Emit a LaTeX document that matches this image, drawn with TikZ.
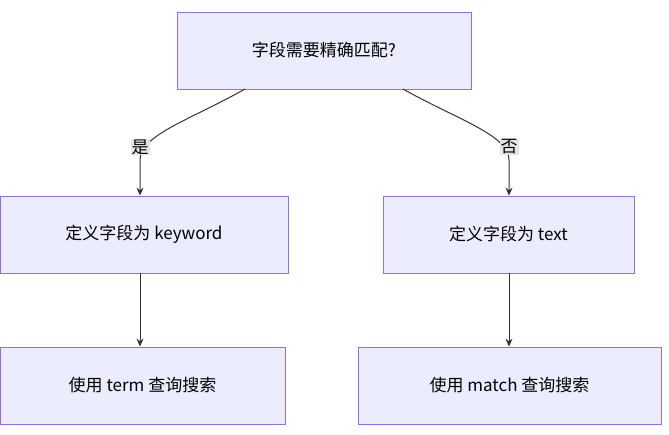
\documentclass[tikz,border=0pt]{standalone}
\usepackage{fontspec}
\setmainfont{Noto Sans CJK SC}
\usetikzlibrary{arrows.meta}
\definecolor{mborder}{HTML}{9370DB}
\definecolor{mfill}{HTML}{ECECFF}
\begin{document}
\begin{tikzpicture}[x=1pt,y=-1pt,
  box/.style={draw=mborder, fill=mfill, line width=0.8pt, font=\fontsize{17}{20}\selectfont},
  lbl/.style={fill=gray!20, inner sep=1pt, font=\fontsize{17}{20}\selectfont},
  arr/.style={draw=black!80, line width=1pt, -{Stealth[length=8pt,width=7pt]}}]
\useasboundingbox (0,0) rectangle (669,434);
\node[box, minimum width=294pt, minimum height=77pt] (q) at (324,50.5) {字段需要精确匹配?};
\node[box, minimum width=288pt, minimum height=77pt] (k) at (144,234.5) {定义字段为 keyword};
\node[box, minimum width=251pt, minimum height=77pt] (t) at (508.5,234.5) {定义字段为 text};
\node[box, minimum width=285pt, minimum height=77pt] (tq) at (142.5,385.5) {使用 term 查询搜索};
\node[box, minimum width=303pt, minimum height=77pt] (mq) at (509.5,385.5) {使用 match 查询搜索};
\coordinate (q1) at (245,89);
\coordinate (q2) at (403,89);
\draw[arr] (q1) .. controls (190,120) and (140,135) .. (140,160) -- (k.north -| 140,196);
\draw[arr] (q2) .. controls (458,120) and (509,135) .. (509,160) -- (t.north -| 509,196);
\node[lbl] (yes) at (140,147) {是};
\node[lbl] (no) at (509,147) {否};
\draw[arr] (k.south -| 140,273) -- (tq.north -| 140,347);
\draw[arr] (t.south -| 509,273) -- (mq.north -| 509,347);
\end{tikzpicture}
\end{document}
